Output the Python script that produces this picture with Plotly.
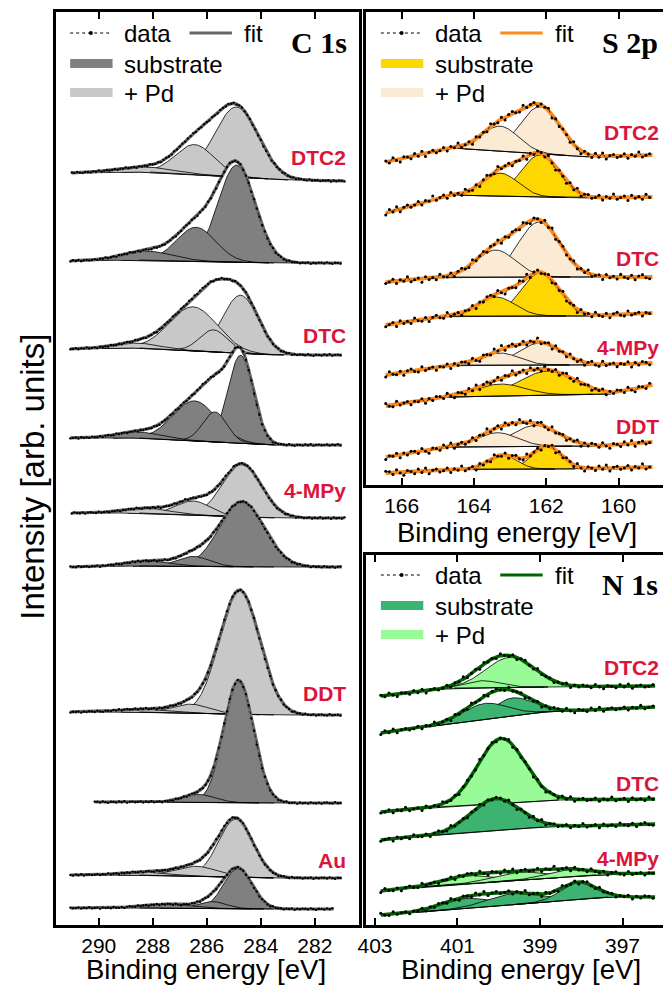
import numpy as np
import plotly.graph_objects as go

W, H = 663, 986

# ---------------- C 1s (intensities in arb. units) ----------------
C1S_NAMES = ["DTC2", "DTC", "4-MPy", "DDT", "Au"]
C1S_KIND = ["pd", "sub", "pd", "sub", "pd", "sub", "pd", "sub", "pd", "sub"]
C1S_BG_E = [
    [291.0, 288.1, 283.0, 280.9],
    [291.05, 288.5, 283.5, 281.0],
    [291.05, 288.5, 283.5, 281.0],
    [291.05, 288.5, 283.5, 281.0],
    [291.0, 288.5, 283.5, 280.9],
    [291.05, 288.5, 283.5, 281.0],
    [291.05, 288.5, 283.5, 281.0],
    [290.15, 288.5, 283.5, 281.0],
    [291.05, 288.5, 283.5, 281.0],
    [291.05, 288.5, 283.5, 281.3],
]
C1S_BG_I = [
    [752, 753, 745, 744],
    [664, 665, 662, 662],
    [576, 577, 570, 570],
    [487, 487, 480, 480],
    [412, 412, 407, 407],
    [358, 359, 358, 358],
    [213, 213, 210, 210],
    [123, 123, 122, 122],
    [50, 50, 47, 47],
    [17, 17, 16, 16],
]
C1S_PEAK_E = [
    [284.9, 286.45, 288.3],
    [284.9, 286.4, 288.2],
    [284.75, 286.5, 285.75, 288.6],
    [284.75, 286.45, 285.7, 288.5],
    [284.7, 286.5, 288.2],
    [284.7, 286.5, 288.2],
    [284.78, 286.6, 288.5],
    [284.82, 286.3],
    [284.93, 286.4, 288.3],
    [284.85, 285.8, 287.5],
]
C1S_PEAK_H = [
    [70, 30, 5],
    [97, 34, 9],
    [58, 44, 22, 5],
    [88, 40, 30, 6],
    [53, 14, 5],
    [65, 10, 5],
    [124, 9, 3],
    [122, 8],
    [58, 10, 3],
    [40, 7, 4],
]
C1S_PEAK_W = [
    [1.9, 1.7, 2.5],
    [1.63, 1.7, 2.2],
    [1.55, 2.1, 1.2, 2.0],
    [1.1, 1.9, 1.05, 2.0],
    [1.7, 1.5, 2.0],
    [1.95, 1.4, 2.0],
    [1.74, 1.6, 2.0],
    [1.3, 1.4],
    [1.5, 1.8, 2.0],
    [1.25, 1.2, 2.0],
]

# ---------------- S 2p ----------------
S2P_NAMES = ["DTC2", "DTC", "4-MPy", "DDT"]
S2P_KIND = ["pd", "sub", "pd", "sub", "pd", "sub", "pd", "sub"]
S2P_BG_E = [
    [166.44, 164.6, 160.8, 159.06],
    [166.44, 164.7, 160.8, 159.06],
    [166.44, 164.7, 160.8, 159.06],
    [166.44, 164.7, 160.8, 159.06],
    [166.44, 164.5, 160.6, 159.06],
    [166.44, 164.7, 160.2, 159.06],
    [166.44, 164.7, 160.5, 159.06],
    [166.44, 164.0, 161.2, 159.06],
]
S2P_BG_I = [
    [323, 337, 328, 330],
    [272, 290, 287, 288],
    [203, 208, 208, 208],
    [160, 169, 169, 172],
    [110, 120, 120, 122],
    [79, 88, 91, 100],
    [28, 38, 39, 43],
    [12, 16, 16, 18],
]
S2P_PEAK_E = [
    [162.17, 163.27], [162.17, 163.27], [162.2, 163.4], [162.17, 163.38],
    [162.17, 163.27], [161.98, 163.27], [162.3, 163.35], [161.98, 163.2],
]
S2P_PEAK_H = [
    [47, 25], [42, 23], [55, 27], [43, 19],
    [22, 12], [24, 12], [21, 14], [23, 14],
]
S2P_PEAK_W = [
    [1.3, 1.2], [1.25, 1.15], [1.37, 1.3], [1.25, 1.2],
    [1.4, 1.2], [1.8, 1.6], [1.5, 1.3], [0.95, 0.9],
]

# ---------------- N 1s ----------------
N1S_NAMES = ["DTC2", "DTC", "4-MPy"]
N1S_KIND = ["pd", "sub", "pd", "sub", "pd", "sub"]
N1S_BG_E = [
    [402.86, 401.1, 398.9, 396.21],
    [402.86, 401.78, 398.91, 396.21],
    [402.86, 401.47, 398.53, 396.21],
    [402.86, 401.54, 398.91, 396.21],
    [402.86, 401.88, 397.64, 396.21],
    [402.86, 401.88, 397.33, 396.21],
]
N1S_BG_I = [
    [229, 237, 238, 239],
    [192, 198, 213, 218],
    [113, 118, 125, 126],
    [85, 90, 98, 101],
    [34, 38, 50, 52],
    [10, 13, 28, 28],
]
N1S_PEAK_E = [
    [399.72, 400.4], [399.67, 400.34], [399.94], [400.08],
    [400.75, 399.5, 398.3], [400.82, 399.63, 398.07],
]
N1S_PEAK_H = [
    [30, 7], [18, 16], [65], [32],
    [8, 8, 7], [10, 11, 17],
]
N1S_PEAK_W = [
    [1.4, 1.0], [1.2, 1.3], [1.35], [1.4],
    [1.4, 1.5, 1.3], [1.4, 1.5, 1.0],
]

# hand-typed measurement residuals (relative units)
RES = [0.3, -0.5, 0.8, -0.2, -0.9, 0.4, 0.1, -0.6, 0.7, -0.3, 0.9, -0.8, 0.2, 0.5,
       -0.4, -0.1, 0.6, -0.7, 0.3, -0.2, 1.0, -0.5, 0.0, 0.4, -0.9, 0.6, -0.3, 0.2,
       -0.6, 0.8, -0.1, -0.4, 0.5, -0.8, 0.3, 0.7, -0.2, -0.5, 0.9, -0.3, 0.1, 0.4,
       -0.7, 0.2, -0.1, 0.6, -0.9, 0.3, -0.4, 0.5]

# ---------------- styling ----------------
FONT = "Liberation Sans, Arial, sans-serif"
RED = "#DC143C"
PANELS = [
    dict(names=C1S_NAMES, kind=C1S_KIND, bgE=C1S_BG_E, bgI=C1S_BG_I, pE=C1S_PEAK_E,
         pH=C1S_PEAK_H, pW=C1S_PEAK_W, xa="x", ya="y",
         colors={"sub": "#808080", "pd": "#C8C8C8"}, fit="#6A6A6A", fitw=3.2,
         res=0.8, msize=2.4),
    dict(names=S2P_NAMES, kind=S2P_KIND, bgE=S2P_BG_E, bgI=S2P_BG_I, pE=S2P_PEAK_E,
         pH=S2P_PEAK_H, pW=S2P_PEAK_W, xa="x2", ya="y2",
         colors={"sub": "#FFD700", "pd": "#FCEBD4"}, fit="#FF8A1C", fitw=3.8,
         res=3.5, msize=3),
    dict(names=N1S_NAMES, kind=N1S_KIND, bgE=N1S_BG_E, bgI=N1S_BG_I, pE=N1S_PEAK_E,
         pH=N1S_PEAK_H, pW=N1S_PEAK_W, xa="x3", ya="y3",
         colors={"sub": "#3CB371", "pd": "#98FB98"}, fit="#006400", fitw=3.4,
         res=2.5, msize=3),
]


def gauss(E, c, h, w):
    s = w / 2.3548
    return h * np.exp(-0.5 * ((E - c) / s) ** 2)


fig = go.Figure()


def add_spectrum(p, i):
    bgE, bgI = p["bgE"][i], p["bgI"][i]
    e0, e1 = bgE[0], bgE[-1]
    xa, ya = p["xa"], p["ya"]
    kp = np.array(bgE[::-1]); ki = np.array(bgI[::-1])
    n = int(round(abs(e0 - e1) / 0.02)) + 1
    Ef = np.linspace(e0, e1, n)
    bgf = np.interp(Ef, kp, ki)
    comps = [gauss(Ef, c, h, w) for c, h, w in zip(p["pE"][i], p["pH"][i], p["pW"][i])]
    fitf = bgf + np.sum(comps, axis=0)
    common = dict(xaxis=xa, yaxis=ya, hoverinfo="skip", showlegend=False)
    # white area under envelope
    fig.add_trace(go.Scatter(x=np.concatenate([Ef, Ef[::-1]]),
                             y=np.concatenate([fitf, bgf[::-1]]),
                             fill="toself", fillcolor="white", mode="lines",
                             line=dict(width=0, color="white"), **common))
    col = p["colors"][p["kind"][i]]
    for (c, h, w), comp in zip(zip(p["pE"][i], p["pH"][i], p["pW"][i]), comps):
        m = np.abs(Ef - c) <= 1.6 * w
        fig.add_trace(go.Scatter(x=np.concatenate([Ef[m], Ef[m][::-1]]),
                                 y=np.concatenate([bgf[m] + comp[m], bgf[m][::-1]]),
                                 fill="toself", fillcolor=col, mode="lines",
                                 line=dict(width=0.8, color="black"), **common))
    m = (Ef <= bgE[1]) & (Ef >= bgE[2])
    fig.add_trace(go.Scatter(x=Ef[m], y=bgf[m], mode="lines",
                             line=dict(width=0.8, color="black"), **common))
    fig.add_trace(go.Scatter(x=Ef, y=fitf, mode="lines",
                             line=dict(width=p["fitw"], color=p["fit"]), **common))
    Ed = np.arange(e0, e1 - 1e-9, -0.1)
    bgd = np.interp(Ed, kp, ki)
    fitd = bgd + np.sum([gauss(Ed, c, h, w) for c, h, w in
                         zip(p["pE"][i], p["pH"][i], p["pW"][i])], axis=0)
    res = np.array([RES[(k + 7 * i) % len(RES)] for k in range(len(Ed))]) * p["res"]
    fig.add_trace(go.Scatter(x=Ed, y=fitd + res, mode="lines+markers",
                             line=dict(width=0.7, color="black", dash="dot"),
                             marker=dict(size=p["msize"], color="black"), **common))


for p in PANELS:
    for i in range(len(p["kind"])):
        add_spectrum(p, i)


def px(x):
    return x / W


def py(y):
    return 1 - y / H


L_X = [48, 355]
R_X = [362, 663]
TOP = 12
L_BOT = 925
RT_BOT = 485
RB_TOP = 555


def xaxis_cfg(dom, rng, tick0, anchor):
    return dict(domain=[px(dom[0]), px(dom[1])], range=rng, showgrid=False, zeroline=False,
                showline=True, linecolor="black", linewidth=3, mirror="ticks",
                ticks="inside", ticklen=7, tickwidth=2, tickcolor="black", dtick=2,
                tick0=tick0, tickfont=dict(family=FONT, size=21, color="black"),
                anchor=anchor, fixedrange=True)


def yaxis_cfg(top, bot, anchor, mirror):
    return dict(domain=[py(bot), py(top)], range=[0, bot - top], showgrid=False,
                zeroline=False, showline=True, linecolor="black", linewidth=3,
                mirror=mirror, ticks="", showticklabels=False, anchor=anchor,
                fixedrange=True)


L_RANGE = [290 + (91 - 48) / 27.4, 282 - (355 - 310) / 27.4]
S_RANGE = [166 + (398 - 362) / 36.6, 160 - (663 - 618) / 36.6]
N_RANGE = [403 + (371 - 362) / 41.8, 397 - (663 - 622) / 41.8]

annotations = []
shapes = []


def text(x, y, s, size, xanchor="left", color="black", family=FONT, angle=0, pad=1,
         yanchor="middle"):
    annotations.append(dict(x=px(x), y=py(y), xref="paper", yref="paper", text=s,
                            showarrow=False, xanchor=xanchor, yanchor=yanchor,
                            font=dict(family=family, size=size, color=color),
                            textangle=angle, borderpad=pad))


def legend_block(x0, y0, fitcol, subcol, pdcol, title, title_x):
    shapes.append(dict(type="line", xref="paper", yref="paper", x0=px(x0), x1=px(x0 + 42),
                       y0=py(y0), y1=py(y0), line=dict(color="black", width=1, dash="dot")))
    shapes.append(dict(type="circle", xref="paper", yref="paper", x0=px(x0 + 19), x1=px(x0 + 23),
                       y0=py(y0 + 2), y1=py(y0 - 2), fillcolor="black", line=dict(width=0)))
    text(x0 + 53, y0, "data", 24)
    shapes.append(dict(type="line", xref="paper", yref="paper", x0=px(x0 + 121), x1=px(x0 + 164),
                       y0=py(y0), y1=py(y0), line=dict(color=fitcol, width=3)))
    text(x0 + 174, y0, "fit", 24)
    shapes.append(dict(type="rect", xref="paper", yref="paper", x0=px(x0), x1=px(x0 + 43),
                       y0=py(y0 + 35), y1=py(y0 + 26), fillcolor=subcol, line=dict(width=0)))
    text(x0 + 53, y0 + 31, "substrate", 24)
    shapes.append(dict(type="rect", xref="paper", yref="paper", x0=px(x0), x1=px(x0 + 43),
                       y0=py(y0 + 64), y1=py(y0 + 55), fillcolor=pdcol, line=dict(width=0)))
    text(x0 + 53, y0 + 60, "+ Pd", 24)
    text(title_x, y0 + 9, "<b>" + title + "</b>", 30, xanchor="right",
         family="Liberation Serif, Times New Roman, serif")


legend_block(62, 33, "#666666", "#808080", "#C8C8C8", "C 1s", 345)
legend_block(377, 33, "#FF8A1C", "#FFD700", "#FCEBD4", "S 2p", 660)
legend_block(377, 575, "#006400", "#3CB371", "#98FB98", "N 1s", 660)

# sample labels
for name, y in zip(C1S_NAMES, [157, 335, 490, 693, 860]):
    text(344, y, "<b>" + name + "</b>", 21, xanchor="right", color=RED)
for name, y in zip(S2P_NAMES, [133, 258, 347, 427]):
    text(661, y, "<b>" + name + "</b>", 21, xanchor="right", color=RED)
for name, y in zip(N1S_NAMES, [667, 783, 858]):
    text(661, y, "<b>" + name + "</b>", 21, xanchor="right", color=RED)

# axis titles
text(200, 986, "Binding energy [eV]", 27.5, xanchor="center", pad=0, yanchor="bottom")
text(515, 532, "Binding energy [eV]", 27.5, xanchor="center", pad=0)
text(519, 986, "Binding energy [eV]", 27.5, xanchor="center", pad=0, yanchor="bottom")
text(23, 477, "Intensity [arb. units]", 33, xanchor="center", angle=-90)

fig.update_layout(
    width=W, height=H, autosize=False,
    margin=dict(l=0, r=0, t=0, b=0, pad=0),
    paper_bgcolor="white", plot_bgcolor="white",
    showlegend=False, hovermode=False,
    xaxis=xaxis_cfg(L_X, L_RANGE, 0, "y"),
    yaxis=yaxis_cfg(TOP, L_BOT, "x", True),
    xaxis2=xaxis_cfg(R_X, S_RANGE, 0, "y2"),
    yaxis2=yaxis_cfg(TOP, RT_BOT, "x2", False),
    xaxis3=xaxis_cfg(R_X, N_RANGE, 1, "y3"),
    yaxis3=yaxis_cfg(RB_TOP, L_BOT, "x3", False),
    annotations=annotations, shapes=shapes,
)

fig.write_html("out.html")
